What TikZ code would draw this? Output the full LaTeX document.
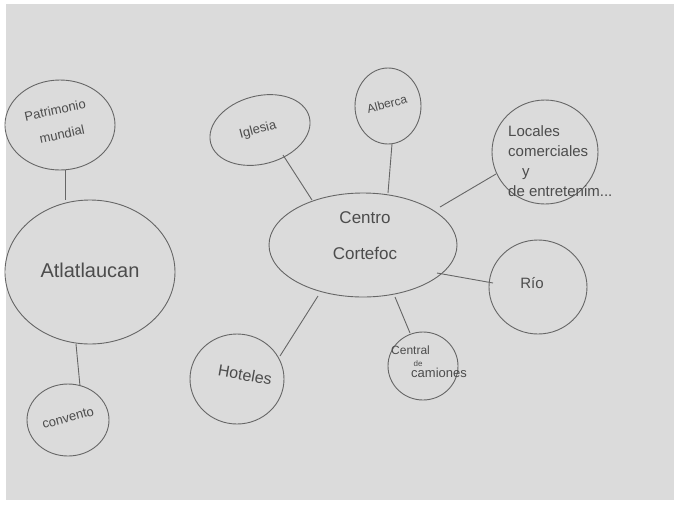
\documentclass[tikz,border=0pt]{standalone}
\usepackage{fontspec}
\setmainfont{Liberation Sans}
\begin{document}
\begin{tikzpicture}[x=1pt,y=-1pt,
  conn/.style={draw=black!60,line width=0.9pt},
  lbl/.style={text=black!70,font=\fontsize{13}{15}\selectfont,align=center,inner sep=0pt}]
\useasboundingbox (0,0) rectangle (680,507);
\fill[white] (0,0) rectangle (680,507);
\fill[black!14] (6,4) rectangle (674,500);
% shapes
\draw[conn] (60,125) ellipse [x radius=55,y radius=45];
\draw[conn] (90,272) ellipse [x radius=85,y radius=72];
\draw[conn] (68,420) ellipse [x radius=41,y radius=36];
\draw[conn,rotate around={15:(260,130)}] (260,130) ellipse [x radius=51,y radius=34];
\draw[conn] (388,106) ellipse [x radius=33,y radius=38];
\draw[conn] (363,245) ellipse [x radius=94,y radius=52];
\draw[conn] (545,152) ellipse [x radius=53,y radius=52];
\draw[conn] (538,287) ellipse [x radius=49,y radius=47];
\draw[conn] (423,366) ellipse [x radius=35,y radius=34];
\draw[conn] (237,379) ellipse [x radius=47,y radius=45];
% named anchors
\coordinate (pm) at (65,170);
\coordinate (atT) at (65,200);
\coordinate (atB) at (76,344);
\coordinate (cv) at (80,386);
\coordinate (ig) at (283,155);
\coordinate (ceIg) at (312,200);
\coordinate (al) at (392,144);
\coordinate (ceAl) at (388,193);
\coordinate (lo) at (496,174);
\coordinate (ceLo) at (440,207);
\coordinate (ri) at (493,283);
\coordinate (ceRi) at (437,273);
\coordinate (cc) at (410,333);
\coordinate (ceCc) at (395,297);
\coordinate (ho) at (280,356);
\coordinate (ceHo) at (318,296);
\draw[conn] (pm) -- (atT);
\draw[conn] (atB) -- (cv);
\draw[conn] (ig) -- (ceIg);
\draw[conn] (al) -- (ceAl);
\draw[conn] (lo) -- (ceLo);
\draw[conn] (ri) -- (ceRi);
\draw[conn] (cc) -- (ceCc);
\draw[conn] (ho) -- (ceHo);
% labels
\node[lbl,rotate=12] (tpm1) at (55,110) {Patrimonio};
\node[lbl,rotate=12] (tpm2) at (62,134) {mundial};
\node[lbl,font=\fontsize{20}{22}\selectfont] (tat) at (90,270) {Atlatlaucan};
\node[lbl,rotate=15] (tcv) at (68,418) {convento};
\node[lbl,rotate=15] (tig) at (258,130) {Iglesia};
\node[lbl,rotate=15,font=\fontsize{12}{14}\selectfont] (tal) at (387,104) {Alberca};
\node[lbl,font=\fontsize{17}{36}\selectfont] (tce) at (365,236) {Centro\\Cortefoc};
\node[lbl,align=left,anchor=north west,font=\fontsize{15}{20}\selectfont] (tlo) at (508,125) {Locales\\comerciales\\\hspace*{14pt}y\\de entretenim...};
\node[lbl,font=\fontsize{15}{17}\selectfont] (tri) at (532,283) {Río};
\node[lbl,font=\fontsize{12}{13}\selectfont,anchor=north west] (tcc1) at (391,346) {Central};
\node[lbl,font=\fontsize{8}{9}\selectfont] (tcc2) at (418,364) {de};
\node[lbl,font=\fontsize{13}{14}\selectfont,anchor=north west] (tcc3) at (411,368) {camiones};
\node[lbl,font=\fontsize{16}{18}\selectfont,rotate=-10] (tho) at (245,375) {Hoteles};
\end{tikzpicture}
\end{document}
